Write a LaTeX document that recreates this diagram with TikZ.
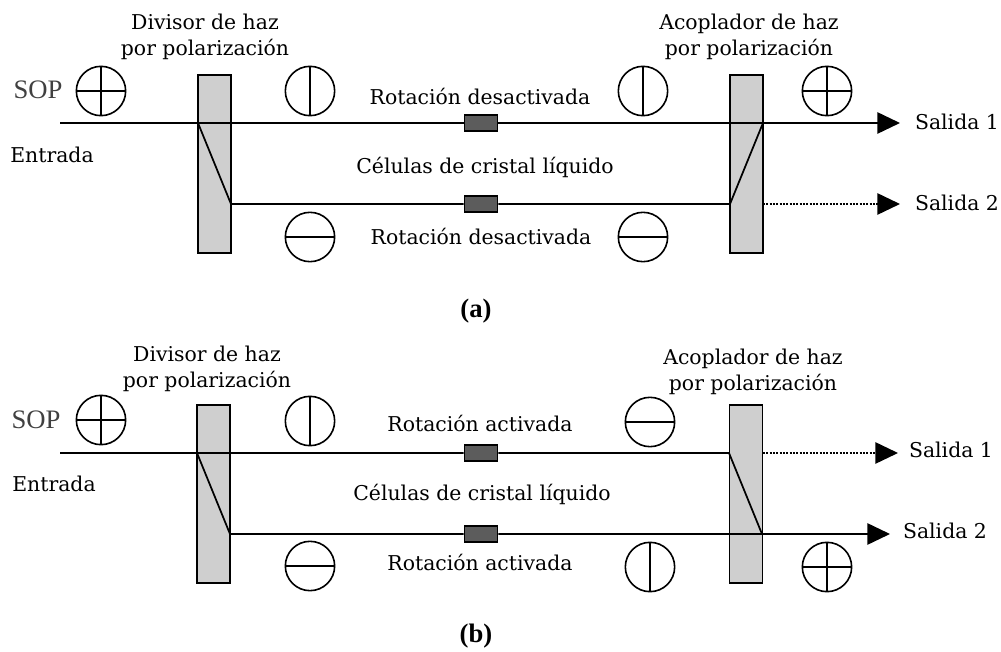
\documentclass[tikz,border=0pt]{standalone}
\usepackage{fontspec}
\newfontfamily\labelfont{Liberation Serif}
\newfontfamily\captionfont{DejaVu Serif}
\usetikzlibrary{arrows.meta}
\definecolor{boxgray}{gray}{0.81}
\definecolor{cellgray}{gray}{0.36}
\tikzset{
polbox/.style={draw,fill=boxgray,line width=1.2pt,minimum width=24.5pt,minimum height=133.5pt,inner sep=0pt},
cell/.style={draw,fill=cellgray,line width=1pt,minimum width=25pt,minimum height=12pt,inner sep=0pt},
polcirc/.style={draw,circle,line width=1.2pt,minimum size=37pt,inner sep=0pt},
beam/.style={line width=1.3pt},
outbeam/.style={line width=1.3pt,-{Triangle[length=17pt,width=16pt]}},
dotbeam/.style={outbeam,dash pattern=on 1.6pt off 0.9pt},
txt/.style={font=\captionfont\fontsize{15.3}{18}\selectfont,inner sep=0pt,align=center},
sop/.style={font=\labelfont\fontsize{20}{22}\selectfont,text=black!75,inner sep=0pt},
tag/.style={font=\labelfont\bfseries\fontsize{20}{22}\selectfont,inner sep=0pt}
}
\begin{document}
\begin{tikzpicture}[x=0.75pt,y=-0.75pt]
\useasboundingbox (0,0) rectangle (1001,652);
\node[polbox] (diva) at (214.5,164) {};
\node[polbox] (acoa) at (746.5,164) {};
\node[polbox] (divb) at (213.5,494) {};
\node[polbox] (acob) at (746,494) {};
\node[cell] (cella1) at (481,123) {};
\node[cell] (cella2) at (481,204) {};
\node[cell] (cellb1) at (481,453) {};
\node[cell] (cellb2) at (481,534) {};
\foreach \n/\x/\y in {a1/310/91,a2/643/91,b1/310/421,b2/650/567} {
\node[polcirc] (v\n) at (\x,\y) {};
\draw[line width=1.2pt] (v\n.north) -- (v\n.south);
}
\foreach \n/\x/\y in {a1/310/237,a2/643/237,b1/310/566,b2/650/422} {
\node[polcirc] (h\n) at (\x,\y) {};
\draw[line width=1.2pt] (h\n.west) -- (h\n.east);
}
\foreach \n/\x/\y in {a1/101/91,a2/827/91,b1/101/420,b2/827/567} {
\node[polcirc] (s\n) at (\x,\y) {};
\draw[line width=1.2pt] (s\n.north) -- (s\n.south);
\draw[line width=1.2pt] (s\n.west) -- (s\n.east);
}
\coordinate (ina) at (60,123);
\coordinate (sa1) at (198,123);
\coordinate (sa2) at (231,204);
\coordinate (ca1) at (730,204);
\coordinate (ca2) at (763,123);
\coordinate (outa1) at (900,123);
\coordinate (dota) at (763,204);
\coordinate (outa2) at (900,204);
\draw[beam] (ina) -- (sa1) -- (cella1) -- (ca2);
\draw[outbeam] (ca2) -- (outa1);
\draw[beam] (sa1) -- (sa2) -- (cella2) -- (ca1) -- (ca2);
\draw[dotbeam] (dota) -- (outa2);
\coordinate (inb) at (60,453);
\coordinate (sb1) at (197,453);
\coordinate (sb2) at (230,534);
\coordinate (cb1) at (729,453);
\coordinate (cb2) at (762,534);
\coordinate (dotb) at (763,453);
\coordinate (outb1) at (898,453);
\coordinate (outb2) at (890,534);
\draw[beam] (inb) -- (sb1) -- (cellb1) -- (cb1) -- (cb2);
\draw[beam] (sb1) -- (sb2) -- (cellb2) -- (cb2);
\draw[outbeam] (cb2) -- (outb2);
\draw[dotbeam] (dotb) -- (outb1);
\node[txt] (tdiva) at (205,36.5) {Divisor de haz\\[1.5pt]por polarización};
\node[txt] (tacoa) at (749,36.5) {Acoplador de haz\\[1.5pt]por polarización};
\node[txt] (tdivb) at (207,369) {Divisor de haz\\[1.5pt]por polarización};
\node[txt] (tacob) at (753,372) {Acoplador de haz\\[1.5pt]por polarización};
\node[sop] (sopa) at (38,90) {SOP};
\node[sop] (sopb) at (36,420) {SOP};
\node[txt] (ena) at (52,155) {Entrada};
\node[txt] (enb) at (54,484) {Entrada};
\node[txt] (rota1) at (480,96) {Rotación desactivada};
\node[txt] (rota2) at (481,236) {Rotación desactivada};
\node[txt] (cela) at (485,167) {Células de cristal líquido};
\node[txt] (rotb1) at (480,423) {Rotación activada};
\node[txt] (rotb2) at (480,562) {Rotación activada};
\node[txt] (celb) at (482,494) {Células de cristal líquido};
\node[txt] (sala1) at (957,122) {Salida 1};
\node[txt] (sala2) at (957,203) {Salida 2};
\node[txt] (salb1) at (951,450) {Salida 1};
\node[txt] (salb2) at (945,531) {Salida 2};
\node[tag] (taga) at (476,311) {(a)};
\node[tag] (tagb) at (476,636) {(b)};
\end{tikzpicture}
\end{document}
